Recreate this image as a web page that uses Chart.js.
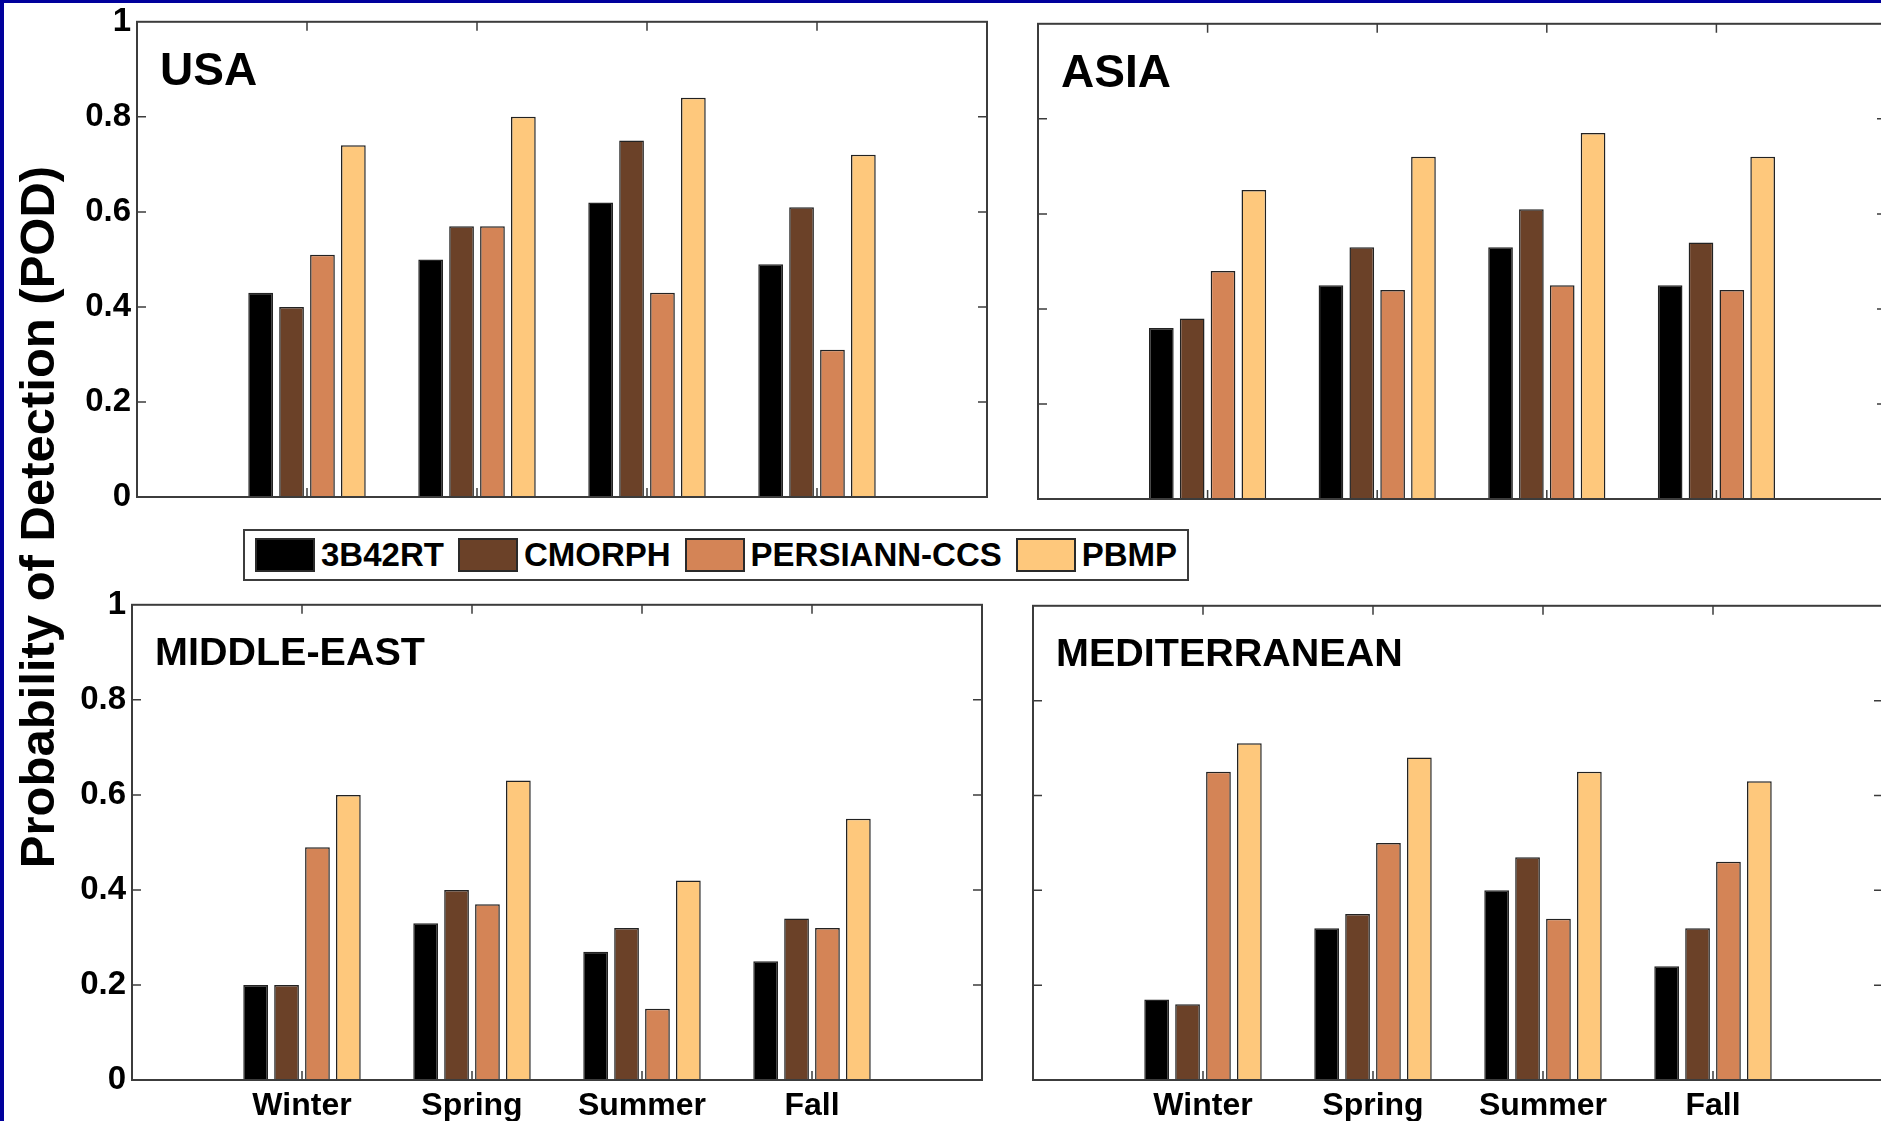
<!DOCTYPE html>
<html lang="en">
<head>
<meta charset="UTF-8">
<title>Probability of Detection by Season</title>
<script src="https://cdn.jsdelivr.net/npm/chart.js"></script>
<style>
    html, body {
        margin: 0;
        padding: 0;
        width: 1881px;
        height: 1121px;
        overflow: hidden;
        background: #fff;
        font-family: "Liberation Sans", Arial, sans-serif;
    }
    .edge-top { position: absolute; left: 0; top: 0; width: 1881px; height: 3px; background: #00009c; z-index: 5; }
    .edge-left { position: absolute; left: 0; top: 0; width: 4px; height: 1121px; background: #00009c; z-index: 5; }
    canvas.panel { position: absolute; }
    #yTitle {
        position: absolute;
        left: -363px;
        top: 493px;
        width: 800px;
        height: 48px;
        line-height: 48px;
        text-align: center;
        font-size: 49px;
        font-weight: bold;
        color: #000;
        transform: rotate(-90deg);
        white-space: nowrap;
    }
    #legend {
        position: absolute;
        left: 243px;
        top: 529px;
        width: 946px;
        height: 52px;
        box-sizing: border-box;
        border: 2px solid #3c3c3c;
        background: #fff;
        display: flex;
        align-items: center;
        padding-left: 10px;
    }
    .item { display: flex; align-items: center; margin-right: 14px; }
    .swatch { width: 60px; height: 34px; box-sizing: border-box; border: 2px solid #2a2a2a; }
    .label { margin-left: 6px; font-size: 33px; font-weight: bold; color: #000; white-space: nowrap; }
</style>
</head>
<body>
<div class="edge-top"></div>
<div class="edge-left"></div>
<div id="yTitle">Probability of Detection (POD)</div>
<div id="legend"></div>

<script>
    const seasons = ['Winter', 'Spring', 'Summer', 'Fall'];
    const products = ['3B42RT', 'CMORPH', 'PERSIANN-CCS', 'PBMP'];

    // one row per product, one column per season
    const usaPOD = [
        [0.43, 0.50, 0.62, 0.49],
        [0.40, 0.57, 0.75, 0.61],
        [0.51, 0.57, 0.43, 0.31],
        [0.74, 0.80, 0.84, 0.72]
    ];
    const asiaPOD = [
        [0.36, 0.45, 0.53, 0.45],
        [0.38, 0.53, 0.61, 0.54],
        [0.48, 0.44, 0.45, 0.44],
        [0.65, 0.72, 0.77, 0.72]
    ];
    const middleEastPOD = [
        [0.20, 0.33, 0.27, 0.25],
        [0.20, 0.40, 0.32, 0.34],
        [0.49, 0.37, 0.15, 0.32],
        [0.60, 0.63, 0.42, 0.55]
    ];
    const mediterraneanPOD = [
        [0.17, 0.32, 0.40, 0.24],
        [0.16, 0.35, 0.47, 0.32],
        [0.65, 0.50, 0.34, 0.46],
        [0.71, 0.68, 0.65, 0.63]
    ];

    const productColors = ['#000000', '#6b4128', '#d48456', '#fec87c'];

    const PAD_L = 80, PAD_T = 25, PAD_R = 20, PAD_B = 60;
    const TICK = 9;
    const FONT = '"Liberation Sans", Arial, sans-serif';

    const panels = [
        { title: 'USA', values: usaPOD, x: 137, y: 21, w: 850, h: 476, titleSize: 46, titleY: 63, yLabels: true, xLabels: false },
        { title: 'ASIA', values: asiaPOD, x: 1038, y: 23, w: 848, h: 476, titleSize: 46, titleY: 63, yLabels: false, xLabels: false },
        { title: 'MIDDLE-EAST', values: middleEastPOD, x: 132, y: 604, w: 850, h: 476, titleSize: 39.5, titleY: 60, yLabels: true, xLabels: true },
        { title: 'MEDITERRANEAN', values: mediterraneanPOD, x: 1033, y: 605, w: 850, h: 475, titleSize: 39.5, titleY: 60, yLabels: false, xLabels: true }
    ];

    // MATLAB-style axes: box around the plot, ticks pointing inward, title inside
    const axesBox = {
        id: 'axesBox',
        beforeDatasetsDraw(chart) {
            const { ctx, chartArea: a, scales: { x, y } } = chart;
            ctx.save();
            ctx.strokeStyle = '#3c3c3c';
            ctx.lineWidth = 1.5;
            ctx.beginPath();
            seasons.forEach((s, i) => {
                const px = x.getPixelForValue(i + 1);
                ctx.moveTo(px, a.top); ctx.lineTo(px, a.top + TICK);
                ctx.moveTo(px, a.bottom); ctx.lineTo(px, a.bottom - TICK);
            });
            [0.2, 0.4, 0.6, 0.8].forEach(v => {
                const py = y.getPixelForValue(v);
                ctx.moveTo(a.left, py); ctx.lineTo(a.left + TICK, py);
                ctx.moveTo(a.right, py); ctx.lineTo(a.right - TICK, py);
            });
            ctx.stroke();
            ctx.restore();
        },
        afterDatasetsDraw(chart, args, opts) {
            const { ctx, chartArea: a } = chart;
            ctx.save();
            ctx.strokeStyle = '#3c3c3c';
            ctx.lineWidth = 2;
            ctx.strokeRect(a.left, a.top, a.right - a.left, a.bottom - a.top);
            ctx.fillStyle = '#000';
            ctx.font = 'bold ' + opts.size + 'px ' + FONT;
            ctx.textBaseline = 'alphabetic';
            ctx.textAlign = 'left';
            ctx.fillText(opts.text, a.left + 23, a.top + opts.offsetY);
            ctx.restore();
        }
    };

    panels.forEach(p => {
        const canvas = document.createElement('canvas');
        canvas.className = 'panel';
        canvas.width = p.w + PAD_L + PAD_R;
        canvas.height = p.h + PAD_T + PAD_B;
        canvas.style.left = (p.x - PAD_L) + 'px';
        canvas.style.top = (p.y - PAD_T) + 'px';
        document.body.appendChild(canvas);

        new Chart(canvas.getContext('2d'), {
            type: 'bar',
            data: {
                datasets: products.map((name, i) => ({
                    label: name,
                    data: seasons.map((s, j) => ({ x: j + 1, y: p.values[i][j] })),
                    backgroundColor: productColors[i],
                    borderColor: '#222',
                    borderWidth: 1.5,
                    categoryPercentage: 4 / 5.5,
                    barPercentage: 0.8
                }))
            },
            options: {
                responsive: false,
                animation: false,
                devicePixelRatio: 1,
                layout: { padding: { left: 0, top: PAD_T, right: PAD_R, bottom: 0 } },
                plugins: {
                    legend: { display: false },
                    tooltip: { enabled: false },
                    axesBox: { text: p.title, size: p.titleSize, offsetY: p.titleY }
                },
                scales: {
                    x: {
                        type: 'linear',
                        min: 0,
                        max: 5,
                        offset: false,
                        grid: { display: false, drawTicks: false },
                        border: { display: false },
                        ticks: {
                            stepSize: 1,
                            autoSkip: false,
                            maxRotation: 0,
                            padding: 7,
                            color: '#000',
                            font: { family: FONT, size: 32, weight: 'bold' },
                            callback: v => (p.xLabels && seasons[v - 1]) ? seasons[v - 1] : ''
                        },
                        afterFit: s => { s.height = PAD_B; }
                    },
                    y: {
                        min: 0,
                        max: 1,
                        grid: { display: false, drawTicks: false },
                        border: { display: false },
                        ticks: {
                            stepSize: 0.2,
                            padding: 6,
                            color: '#000',
                            font: { family: FONT, size: 33, weight: 'bold' },
                            callback: v => p.yLabels ? String(+v.toFixed(1)) : ''
                        },
                        afterFit: s => { s.width = PAD_L; }
                    }
                }
            },
            plugins: [axesBox]
        });
    });

    // legend shared by all four panels
    const legend = document.getElementById('legend');
    products.forEach((name, i) => {
        const item = document.createElement('div');
        item.className = 'item';
        const sw = document.createElement('div');
        sw.className = 'swatch';
        sw.style.background = productColors[i];
        const lb = document.createElement('span');
        lb.className = 'label';
        lb.textContent = name;
        item.appendChild(sw);
        item.appendChild(lb);
        legend.appendChild(item);
    });
</script>
</body>
</html>
